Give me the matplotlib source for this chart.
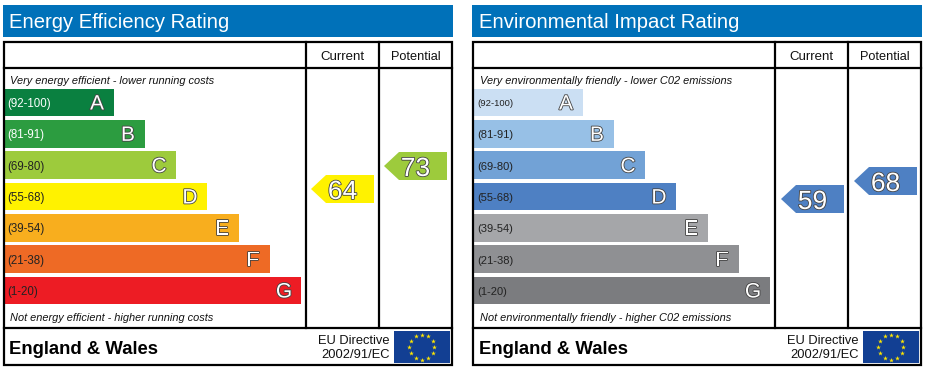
import numpy as np
import matplotlib
matplotlib.use("Agg")
import matplotlib.pyplot as plt
import matplotlib.patheffects as pe
from matplotlib.patches import Polygon, Rectangle

plt.rcParams['font.family'] = ['Liberation Sans', 'DejaVu Sans']

letters = ['A', 'B', 'C', 'D', 'E', 'F', 'G']
ranges = ['(92-100)', '(81-91)', '(69-80)', '(55-68)', '(39-54)', '(21-38)', '(1-20)']
band_lengths = [109, 140, 171, 202, 234, 265, 296]

energy_colors = ['#0a8040', '#2c9c40', '#9dcb3c', '#fff200', '#f8ae1e', '#ee6a25', '#ed1c24']
energy_range_colors = ['white', 'white', '#222222', '#222222', '#222222', '#222222', '#222222']
env_colors = ['#cbdff3', '#97c0e6', '#72a2d6', '#4e80c3', '#a5a6a9', '#8f9093', '#7b7c7f']
env_range_colors = ['#222222'] * 7

energy_current, energy_potential = 64, 73
env_current, env_potential = 59, 68


def outlined(ax, x, y, s, size):
    ax.text(x, y, s, fontsize=size, color='white', ha='center', va='center_baseline',
            path_effects=[pe.withStroke(linewidth=1.2, foreground='#444444')], zorder=6)


def arrow(ax, right, yc, value, color):
    h = 14
    ax.add_patch(Polygon([(right - 63, yc), (right - 48, yc - h), (right, yc - h), (right, yc + h), (right - 48, yc + h)],
                         closed=True, fc=color, ec='none', zorder=4))
    outlined(ax, right - 31.5, yc + 0.5, str(value), 19)


def flag(ax, x0, y0):
    w, h = 56, 32
    ax.add_patch(Rectangle((x0, y0), w, h, fc='#123f93', ec='none', zorder=3))
    ang = np.arange(12) * np.pi / 6
    ax.scatter(x0 + w / 2 + 12.5 * np.sin(ang), y0 + h / 2 - 12.5 * np.cos(ang), marker='*', s=13,
               c='#ffe600', linewidths=0, zorder=4)


def panel(ax, dx, tx, title, top_note, bottom_note, colors, range_colors, range_sizes, current, potential,
          y_current, y_potential, c_current, c_potential):
    left, right = 4 + dx, 452.5 + dx
    col1, col2 = 306 + dx, 379 + dx
    top, head, foot, bottom = 42, 68, 328, 365

    ax.add_patch(Rectangle((3 + dx, 5), 450, 32, fc='#0071b9', ec='none'))
    ax.text(9 + tx, 23, title, fontsize=14.6, color='white', ha='left', va='center')

    ax.add_patch(Rectangle((left, top), right - left, bottom - top, fc='none', ec='black', lw=1.6, zorder=5))
    ax.plot([left, right], [head, head], color='black', lw=1.6, zorder=5)
    ax.plot([left, right], [foot, foot], color='black', lw=1.6, zorder=5)
    ax.plot([col1, col1], [top, foot], color='black', lw=1.6, zorder=5)
    ax.plot([col2, col2], [top, foot], color='black', lw=1.6, zorder=5)

    ax.text((col1 + col2) / 2, 57, 'Current', fontsize=9.5, ha='center', va='center', color='#111111')
    ax.text((col2 + right) / 2, 57, 'Potential', fontsize=9.2, ha='center', va='center', color='#111111')

    ax.text(10 + tx, 80.5, top_note, fontsize=7.95, style='italic', ha='left', va='center', color='#111111')
    ax.text(10 + tx, 318, bottom_note, fontsize=7.95, style='italic', ha='left', va='center', color='#111111')

    ys = 102.5 + np.arange(7) * 31.33
    ax.barh(ys, band_lengths, height=27.5, left=5 + dx, color=colors, zorder=2)
    for y, n, r, rc, rs, lt in zip(ys, band_lengths, ranges, range_colors, range_sizes, letters):
        ax.text(7.5 + tx, y + 1.5, r, fontsize=rs, ha='left', va='center', color=rc, zorder=6)
        outlined(ax, 5 + dx + n - 17, y - 0.5, lt, 15)

    arrow(ax, 374 + tx, y_current, current, c_current)
    arrow(ax, 447 + tx, y_potential, potential, c_potential)

    ax.text(9 + tx, 349.5, 'England & Wales', fontsize=13.3, fontweight='bold', ha='left', va='center', color='black')
    ax.text(390 + dx, 341, 'EU Directive', fontsize=9.3, ha='right', va='center', color='#111111')
    ax.text(390 + dx, 355, '2002/91/EC', fontsize=9.3, ha='right', va='center', color='#111111')
    flag(ax, 394 + dx, 331)


fig = plt.figure(figsize=(9.29, 3.70), dpi=100)
ax = fig.add_axes([0, 0, 1, 1])
ax.set_xlim(0, 929)
ax.set_ylim(370, 0)
ax.axis('off')

panel(ax, 0, 0, 'Energy Efficiency Rating', 'Very energy efficient - lower running costs',
      'Not energy efficient - higher running costs', energy_colors, energy_range_colors, [8.3] * 7,
      energy_current, energy_potential, 189, 166, energy_colors[3], energy_colors[2])
panel(ax, 469, 470, 'Environmental Impact Rating', 'Very environmentally friendly - lower C02 emissions',
      'Not environmentally friendly - higher C02 emissions', env_colors, env_range_colors, [6.8] + [8.0] * 6,
      env_current, env_potential, 199, 181, env_colors[3], env_colors[3])

fig.savefig('out.png', dpi=100)
